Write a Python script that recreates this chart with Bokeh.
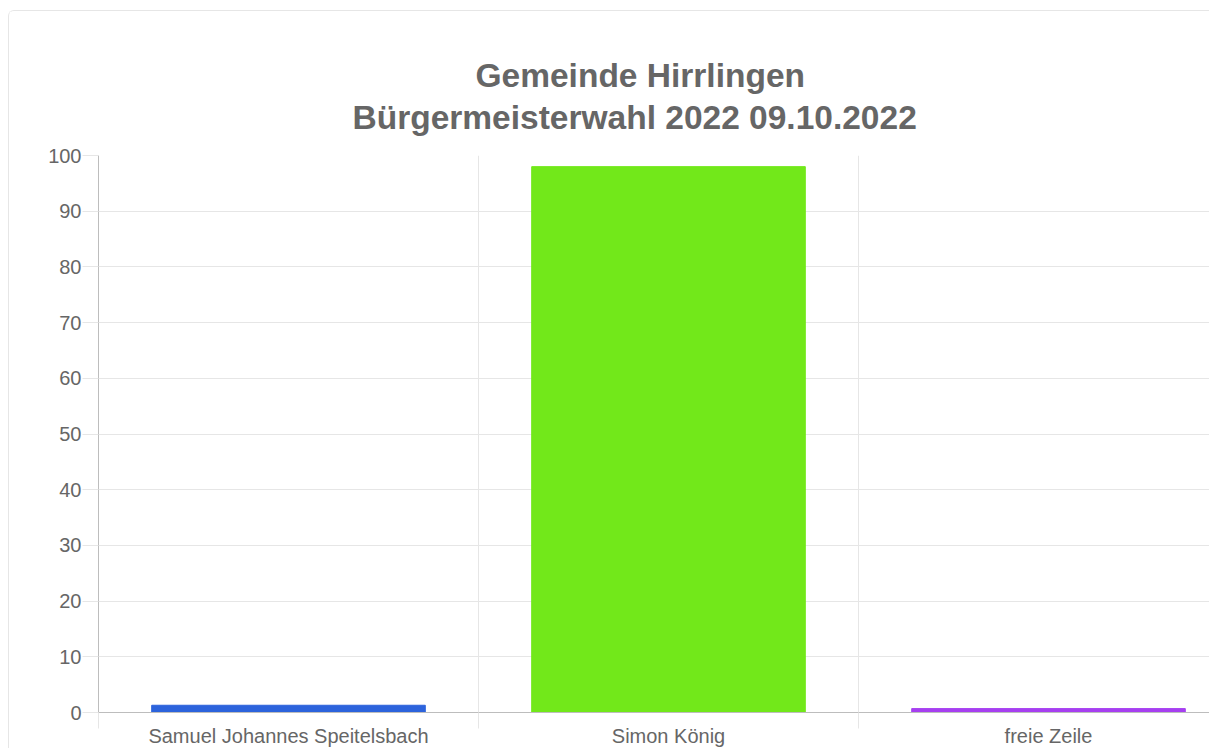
from bokeh.plotting import figure
from bokeh.models import Range1d, FixedTicker, ColumnDataSource, Title, LinearAxis
from bokeh.embed import file_html
from bokeh.resources import INLINE

# ---- data ----
categories = ["Samuel Johannes Speitelsbach", "Simon König", "freie Zeile"]
values = [1.3, 98.0, 0.7]
bar_colors = ["#2c63dc", "#72e81a", "#a63ff0"]
y_ticks = [0, 10, 20, 30, 40, 50, 60, 70, 80, 90, 100]
title_lines = ["Gemeinde Hirrlingen", "Bürgermeisterwahl 2022 09.10.2022"]

FONT = "Liberation Sans"
TXT = "#666666"
GRID = "#e6e6e6"
AXIS = "#bdbdbd"

W, H = 1201, 738
visible_cats = (1210 - 98) / 380.0  # portion of the category axis visible in the window

pos = [i + 0.5 for i in range(len(categories))]
bounds = list(range(len(categories) + 1))
src = ColumnDataSource(dict(x=pos, top=values, color=bar_colors))

p = figure(width=W, height=H, output_backend="svg", toolbar_location=None,
           x_range=Range1d(0, visible_cats), y_range=Range1d(0, 100),
           min_border_left=89, min_border_top=144, min_border_right=0, min_border_bottom=37)
p.styles = {"margin-top": "10px", "margin-left": "8px",
            "border-top": "1px solid #e6e6e6", "border-left": "1px solid #e6e6e6",
            "border-top-left-radius": "6px"}

p.vbar(x="x", top="top", width=0.72, bottom=0, color="color", source=src)

# title: two lines; the later-added title sits closest to the plot
p.title.text = title_lines[0]
p.title.standoff = -34
p.title.offset = 377
t2 = Title(text=title_lines[1], standoff=40, offset=254)
p.add_layout(t2, "above")
for t in (p.title, t2):
    t.align = "left"
    t.text_font = FONT
    t.text_font_size = "33.5px"
    t.text_font_style = "bold"
    t.text_color = TXT

# y axis
yax = p.yaxis[0]
yax.ticker = FixedTicker(ticks=y_ticks)
yax.major_tick_out = 16
yax.major_tick_in = 0
yax.minor_tick_out = 0
yax.minor_tick_in = 0
yax.major_tick_line_color = GRID
yax.axis_line_color = AXIS
yax.major_label_standoff = 1
yax.major_label_text_font = FONT
yax.major_label_text_font_size = "20px"
yax.major_label_text_color = TXT

# x axis 1 (next to the plot): tick marks at the category boundaries, no labels
xax = p.xaxis[0]
xax.ticker = FixedTicker(ticks=bounds)
xax.major_label_overrides = {b: "" for b in bounds}
xax.major_label_text_font_size = "0px"
xax.major_label_standoff = 0
xax.major_tick_out = 16
xax.major_tick_in = 0
xax.minor_tick_out = 0
xax.minor_tick_in = 0
xax.major_tick_line_color = GRID
xax.axis_line_color = AXIS

# x axis 2 (below it): category names at the category centres
lab = LinearAxis(ticker=FixedTicker(ticks=pos),
                 major_label_overrides={x: c for x, c in zip(pos, categories)},
                 axis_line_color=None, major_tick_line_color=None,
                 major_tick_out=0, major_tick_in=0, minor_tick_out=0, minor_tick_in=0,
                 major_label_standoff=-4, major_label_text_font=FONT,
                 major_label_text_font_size="20px", major_label_text_color=TXT)
p.add_layout(lab, "below")

p.xgrid.ticker = FixedTicker(ticks=bounds[1:])
p.xgrid.grid_line_color = GRID
p.ygrid.ticker = FixedTicker(ticks=y_ticks)
p.ygrid.grid_line_color = GRID
p.outline_line_color = None

open("out.html", "w").write(file_html(p, INLINE))
